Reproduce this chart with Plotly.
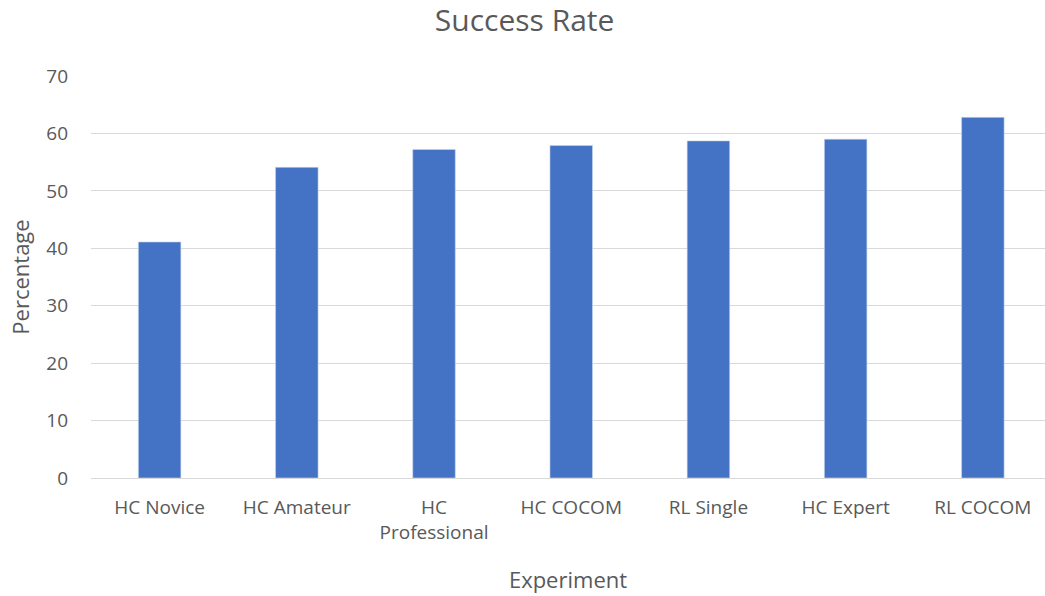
import plotly.graph_objects as go

categories = ["HC Novice", "HC Amateur", "HC<br>Professional", "HC COCOM",
              "RL Single", "HC Expert", "RL COCOM"]
success_rate = [41.1, 54.1, 57.2, 57.9, 58.7, 59.0, 62.8]
y_ticks = [0, 10, 20, 30, 40, 50, 60, 70]

TEXT = "#595959"
GRID = "#d9d9d9"
BAR = "#4472C4"
FONT = "Open Sans"

fig = go.Figure(
    go.Bar(
        x=list(range(len(categories))),
        y=success_rate,
        width=0.31,
        marker=dict(color=BAR, line=dict(color="#c9d6ef", width=0.6)),
        hoverinfo="skip",
    )
)

fig.update_layout(
    width=1045,
    height=596,
    margin=dict(l=91, r=0, t=76, b=118),
    paper_bgcolor="white",
    plot_bgcolor="white",
    showlegend=False,
    title=dict(
        text="Success Rate",
        x=0.502, xanchor="center", xref="container",
        y=0.965, yanchor="middle", yref="container",
        font=dict(family=FONT, size=30, color=TEXT),
    ),
    font=dict(family=FONT, color=TEXT),
    xaxis=dict(
        tickmode="array",
        tickvals=list(range(len(categories))),
        ticktext=categories,
        range=[-0.5, 6.453],
        showgrid=False,
        zeroline=False,
        showline=False,
        ticks="",
        tickfont=dict(family=FONT, size=19, color=TEXT),
        ticklabelstandoff=16,
        title=dict(text="Experiment", font=dict(family=FONT, size=22, color=TEXT), standoff=28),
    ),
    yaxis=dict(
        range=[0, 70],
        tickmode="array",
        tickvals=y_ticks,
        showgrid=True,
        gridcolor=GRID,
        gridwidth=1.3,
        zeroline=True,
        zerolinecolor=GRID,
        zerolinewidth=1.3,
        showline=False,
        ticks="",
        tickfont=dict(family=FONT, size=19, color=TEXT),
        ticklabelstandoff=22,
        title=dict(text="Percentage", font=dict(family=FONT, size=22, color=TEXT), standoff=10),
    ),
)

fig.write_html("out.html")
